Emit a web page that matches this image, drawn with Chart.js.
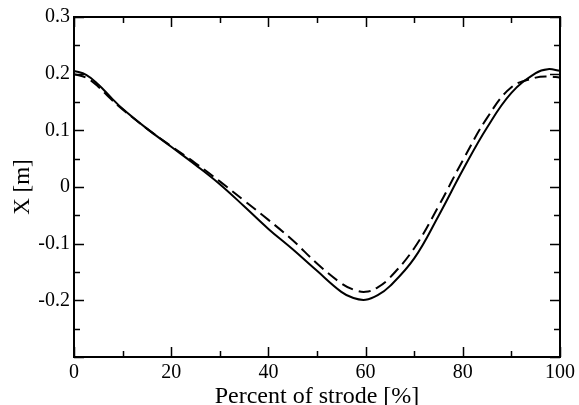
<!DOCTYPE html>
<html>
<head>
<meta charset="utf-8">
<script src="https://cdn.jsdelivr.net/npm/chart.js@4"></script>
<style>
  html, body { margin: 0; padding: 0; background: #fff; }
  #wrap { width: 579px; height: 405px; }
</style>
</head>
<body>
<div id="wrap"><canvas id="strode"></canvas></div>
<script>
const percent = [0, 2.5, 5, 7.5, 10, 15, 20, 25, 30, 35, 40, 45, 50, 55, 57.5, 60, 62.5, 65, 70, 75, 80, 85, 90, 95, 97.5, 100];
const solidX = [0.205, 0.198, 0.181, 0.159, 0.138, 0.103, 0.071, 0.039, 0.005, -0.034, -0.074, -0.110, -0.148, -0.185, -0.196, -0.199, -0.191, -0.175, -0.126, -0.051, 0.030, 0.105, 0.166, 0.201, 0.208, 0.205];
const dashedX = [0.199, 0.193, 0.177, 0.156, 0.137, 0.103, 0.072, 0.042, 0.010, -0.024, -0.058, -0.094, -0.135, -0.170, -0.181, -0.185, -0.177, -0.160, -0.108, -0.034, 0.047, 0.122, 0.176, 0.193, 0.195, 0.193];
const yTicks = [-0.3, -0.2, -0.1, 0, 0.1, 0.2, 0.3];

const serif = 'Liberation Serif';

// frame plus inward ticks on all four sides, like the original plot
const frameTicks = {
  id: 'frameTicks',
  afterDraw(chart) {
    const { ctx, chartArea: a, scales } = chart;
    const xs = scales.x, ys = scales.y;
    ctx.save();
    ctx.strokeStyle = '#000';
    ctx.lineWidth = 1.5;
    ctx.beginPath();
    for (let v = 0; v <= 100; v += 10) {
      const px = Math.round(xs.getPixelForValue(v)) + 0.5;
      const len = v % 20 === 0 ? 10 : 6;
      ctx.moveTo(px, a.bottom); ctx.lineTo(px, a.bottom - len);
      ctx.moveTo(px, a.top); ctx.lineTo(px, a.top + len);
    }
    for (let i = -6; i <= 6; i++) {
      const v = i * 0.05;
      const py = Math.round(ys.getPixelForValue(v)) + 0.5;
      const len = i % 2 === 0 ? 10 : 6;
      ctx.moveTo(a.left, py); ctx.lineTo(a.left + len, py);
      ctx.moveTo(a.right, py); ctx.lineTo(a.right - len, py);
    }
    ctx.stroke();
    ctx.lineWidth = 2;
    ctx.strokeRect(a.left, a.top, a.right - a.left, a.bottom - a.top);
    ctx.restore();
  }
};

new Chart(document.getElementById('strode'), {
  type: 'line',
  data: {
    datasets: [
      {
        label: 'solid',
        data: percent.map((p, i) => ({ x: p, y: solidX[i] })),
        borderColor: '#000',
        borderWidth: 2,
        pointRadius: 0,
        tension: 0.4
      },
      {
        label: 'dashed',
        data: percent.map((p, i) => ({ x: p, y: dashedX[i] })),
        borderColor: '#000',
        borderWidth: 2,
        borderDash: [12, 6],
        pointRadius: 0,
        tension: 0.4
      }
    ]
  },
  options: {
    responsive: true,
    maintainAspectRatio: false,
    animation: false,
    layout: { padding: { top: 17, right: 17, left: 0, bottom: 0 } },
    plugins: { legend: { display: false }, tooltip: { enabled: false } },
    scales: {
      x: {
        type: 'linear',
        min: 0,
        max: 100,
        grid: { display: false, drawTicks: false },
        border: { display: false },
        ticks: {
          stepSize: 20,
          padding: 4,
          color: '#000',
          maxRotation: 0,
          font: { family: serif, size: 20 }
        },
        title: {
          display: true,
          text: 'Percent of strode [%]',
          color: '#000',
          padding: { top: 0, bottom: -6 },
          font: { family: serif, size: 24 }
        },
        afterFit(scale) { scale.height = 48; }
      },
      y: {
        min: -0.3,
        max: 0.3,
        grid: { display: false, drawTicks: false },
        border: { display: false },
        afterBuildTicks(scale) { scale.ticks = yTicks.map(v => ({ value: v })); },
        ticks: {
          padding: 4,
          color: '#000',
          font: { family: serif, size: 20 },
          callback: v => (Math.abs(v + 0.3) < 1e-9 ? '' : String(parseFloat(v.toFixed(2))))
        },
        title: {
          display: true,
          text: 'X [m]',
          color: '#000',
          padding: { top: 9, bottom: 0 },
          font: { family: serif, size: 23 }
        },
        afterFit(scale) { scale.width = 74; }
      }
    }
  },
  plugins: [frameTicks]
});
</script>
</body>
</html>
